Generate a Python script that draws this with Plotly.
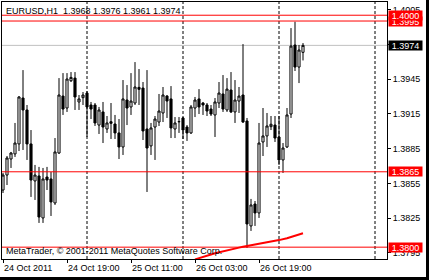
import plotly.graph_objects as go
import pandas as pd

# Hourly EURUSD bars (24 Oct 2011 03:00 onwards)
opens = [1.38493, 1.38622, 1.38760, 1.38804, 1.38890, 1.39286, 1.39183, 1.38890, 1.38571, 1.38614,
         1.38252, 1.38605, 1.38588, 1.38381, 1.38812, 1.39303, 1.39200, 1.39435, 1.39458, 1.39252,
         1.39289, 1.39329, 1.39226, 1.39226, 1.39053, 1.39166, 1.39019, 1.39082, 1.39062, 1.38985,
         1.38864, 1.39269, 1.39209, 1.39243, 1.39378, 1.39372, 1.39019, 1.38873, 1.39036, 1.39079,
         1.39157, 1.39303, 1.39278, 1.39019, 1.39083, 1.39114, 1.39036, 1.38985, 1.39200, 1.39278,
         1.39243, 1.39226, 1.39191, 1.39140, 1.39243, 1.39321, 1.39183, 1.39355, 1.39166, 1.39260,
         1.39312, 1.39088, 1.38183, 1.38372, 1.38295, 1.38907, 1.38959, 1.39039, 1.39053, 1.38950,
         1.38752, 1.38864, 1.39148, 1.39743, 1.39553, 1.3968]
highs = [1.38640, 1.38786, 1.38821, 1.39071, 1.39303, 1.39527, 1.39226, 1.39010, 1.38709, 1.38692,
         1.38683, 1.38692, 1.38648, 1.38941, 1.39458, 1.39501, 1.39501, 1.39510, 1.39510, 1.39312,
         1.39338, 1.39346, 1.39252, 1.39243, 1.39209, 1.39252, 1.39131, 1.39243, 1.39140, 1.39105,
         1.39441, 1.39398, 1.39501, 1.39596, 1.39536, 1.39424, 1.39527, 1.39071, 1.39131, 1.39321,
         1.39381, 1.39312, 1.39389, 1.39122, 1.39122, 1.39122, 1.39053, 1.39226, 1.39295, 1.39363,
         1.39252, 1.39243, 1.39226, 1.39286, 1.39424, 1.39484, 1.39458, 1.39510, 1.39441, 1.39381,
         1.39751, 1.39114, 1.38416, 1.38398, 1.39071, 1.39200, 1.39157, 1.39131, 1.39131, 1.39131,
         1.38898, 1.39200, 1.39889, 1.39944, 1.39743, 1.3976]
lows = [1.38467, 1.38536, 1.38683, 1.38778, 1.38829, 1.38838, 1.38752, 1.38433, 1.38407, 1.38209,
        1.38209, 1.38493, 1.38269, 1.38364, 1.38804, 1.39140, 1.39166, 1.39424, 1.39183, 1.39183,
        1.39226, 1.38950, 1.39105, 1.39045, 1.38976, 1.38898, 1.38985, 1.38933, 1.38933, 1.38760,
        1.38795, 1.39053, 1.39140, 1.39226, 1.39226, 1.38924, 1.38476, 1.38795, 1.38752, 1.39045,
        1.39079, 1.39114, 1.38941, 1.38941, 1.38985, 1.38933, 1.38916, 1.38976, 1.39122, 1.39148,
        1.39140, 1.39131, 1.39131, 1.38950, 1.39200, 1.39166, 1.39166, 1.39157, 1.39071, 1.39157,
        1.39071, 1.37993, 1.38140, 1.38183, 1.38252, 1.38786, 1.38864, 1.39010, 1.38907, 1.38709,
        1.38640, 1.38855, 1.39114, 1.39519, 1.39415, 1.3961]
closes = [1.38622, 1.38769, 1.38812, 1.38898, 1.39295, 1.39183, 1.38890, 1.38579, 1.38622, 1.38260,
          1.38588, 1.38579, 1.38390, 1.38821, 1.39312, 1.39191, 1.39450, 1.39464, 1.39295, 1.39278,
          1.39312, 1.39209, 1.39191, 1.39071, 1.39183, 1.39036, 1.39071, 1.39068, 1.38985, 1.38864,
          1.39278, 1.39200, 1.39260, 1.39381, 1.39361, 1.39002, 1.38855, 1.39028, 1.39105, 1.39174,
          1.39312, 1.39260, 1.39028, 1.39071, 1.39082, 1.39010, 1.38985, 1.39209, 1.39269, 1.39209,
          1.39226, 1.39174, 1.39148, 1.39252, 1.39329, 1.39191, 1.39363, 1.39166, 1.39269, 1.39303,
          1.39079, 1.38200, 1.38364, 1.38295, 1.38898, 1.38959, 1.39045, 1.39060, 1.38941, 1.38752,
          1.38855, 1.39140, 1.39734, 1.39553, 1.39700, 1.3974]
times = pd.date_range("2011-10-24 03:00", periods=len(opens), freq="h")

# Indicator line (red), from bar 48 onwards
ind_start = 48
ind_vals = [1.37895, 1.37904, 1.37913, 1.37925, 1.37937, 1.37948, 1.37955, 1.37963, 1.37972, 1.37980,
            1.37989, 1.37996, 1.38004, 1.38011, 1.38017, 1.38024, 1.38030, 1.38036, 1.38042, 1.38048,
            1.38055, 1.38061, 1.38067, 1.38077, 1.38088, 1.38099, 1.38110, 1.38120]

red_levels = [1.3995, 1.4000, 1.3865, 1.3800]
red_labels = ["1.3995", "1.4000", "1.3865", "1.3800"]
bid_level = 1.3974
bid_label = "1.3974"
separators = ["2011-10-25 00:00", "2011-10-26 00:00", "2011-10-27 00:00", "2011-10-28 00:00"]
xtick_vals = ["2011-10-24 03:00", "2011-10-24 19:00", "2011-10-25 11:00", "2011-10-26 03:00", "2011-10-26 19:00"]
xtick_text = ["24 Oct 2011", "24 Oct 19:00", "25 Oct 11:00", "26 Oct 03:00", "26 Oct 19:00"]
ytick_vals = [1.3795, 1.3825, 1.3855, 1.3885, 1.3915, 1.3945, 1.3975, 1.4005]
ytick_text = ["1.3795", "1.3825", "1.3855", "1.3885", "1.3915", "1.3945", "1.3975", "1.4005"]
title_text = "EURUSD,H1  1.3968 1.3976 1.3961 1.3974"
footer_text = "MetaTrader, © 2001-2011 MetaQuotes Software Corp."

FONT = "Liberation Sans, Arial, sans-serif"

fig = go.Figure()
fig.add_trace(go.Candlestick(
    x=times, open=opens, high=highs, low=lows, close=closes,
    increasing=dict(line=dict(color="black", width=1), fillcolor="white"),
    decreasing=dict(line=dict(color="black", width=1), fillcolor="black"),
    whiskerwidth=0, showlegend=False, hoverinfo="skip",
))
fig.add_trace(go.Scatter(
    x=times[ind_start:], y=ind_vals, mode="lines",
    line=dict(color="#FF0000", width=2), showlegend=False, hoverinfo="skip",
))

shapes = []
for s in separators:
    shapes.append(dict(type="line", xref="x", yref="paper", x0=s, x1=s, y0=0, y1=1,
                       line=dict(color="black", width=1, dash="3px,2px"), layer="below"))
shapes.append(dict(type="line", xref="paper", yref="y", x0=0, x1=1, y0=bid_level, y1=bid_level,
                   line=dict(color="#C0C0C0", width=1), layer="below"))
for lv in red_levels:
    shapes.append(dict(type="line", xref="paper", yref="y", x0=0, x1=1, y0=lv, y1=lv,
                       line=dict(color="#FF0000", width=1), layer="above"))
# window border bands (right and bottom)
shapes.append(dict(type="rect", xref="paper", yref="paper", x0=1.1013, x1=1.12, y0=-0.1, y1=1.1,
                   fillcolor="black", line=dict(width=0), layer="above"))
shapes.append(dict(type="rect", xref="paper", yref="paper", x0=-0.1, x1=1.12, y0=-0.0701, y1=-0.1,
                   fillcolor="black", line=dict(width=0), layer="above"))

annotations = []
for lv, lb in zip(red_labels and red_levels, red_labels):
    annotations.append(dict(xref="paper", yref="y", x=1, y=lv, xanchor="left", yanchor="middle",
                            xshift=1, text=lb, showarrow=False, bgcolor="#FF0000",
                            font=dict(family=FONT, size=9, color="white"),
                            width=33, height=9, borderpad=0, align="center"))
annotations.append(dict(xref="paper", yref="y", x=1, y=bid_level, xanchor="left", yanchor="middle",
                        xshift=1, text=bid_label, showarrow=False, bgcolor="black",
                        font=dict(family=FONT, size=9, color="white"),
                        width=33, height=9, borderpad=0, align="center"))
annotations.append(dict(xref="paper", yref="paper", x=0, y=1, xanchor="left", yanchor="top",
                        xshift=2, yshift=-2, text=title_text, showarrow=False,
                        font=dict(family=FONT, size=9, color="black")))
annotations.append(dict(xref="paper", yref="paper", x=0, y=0, xanchor="left", yanchor="bottom",
                        xshift=2, yshift=1, text=footer_text, showarrow=False,
                        font=dict(family=FONT, size=9, color="black")))

fig.update_layout(
    width=429, height=280,
    margin=dict(l=2, r=42, t=2, b=21),
    paper_bgcolor="white", plot_bgcolor="white",
    boxgap=0.25,
    showlegend=False,
    hovermode=False,
    font=dict(family=FONT, size=9, color="black"),
    shapes=shapes, annotations=annotations,
    xaxis=dict(
        type="date", range=["2011-10-24 02:45", "2011-10-28 03:00"],
        rangeslider=dict(visible=False),
        showgrid=False, zeroline=False,
        showline=True, mirror=True, linecolor="black", linewidth=1,
        tickmode="array", tickvals=xtick_vals, ticktext=xtick_text,
        ticks="outside", ticklen=3, tickcolor="black",
        ticklabelposition="outside right",
        tickfont=dict(family=FONT, size=9, color="black"),
    ),
    yaxis=dict(
        range=[1.37898, 1.40114], side="right",
        showgrid=False, zeroline=False,
        showline=True, mirror=True, linecolor="black", linewidth=1,
        tickmode="array", tickvals=ytick_vals, ticktext=ytick_text,
        ticks="outside", ticklen=3, tickcolor="black",
        tickfont=dict(family=FONT, size=9, color="black"),
    ),
)

fig.write_html("out.html")
